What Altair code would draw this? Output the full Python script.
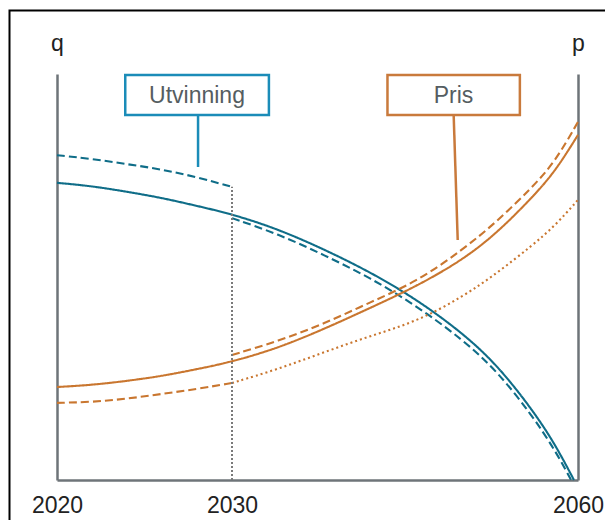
import altair as alt
import pandas as pd

# ---- data (value axis 0..100, schematic units) ----
years = [2020, 2022, 2024, 2026, 2028, 2030, 2034, 2038, 2042, 2046, 2050, 2053, 2056, 2058, 2060]
years_pre = years[:6]
years_post = years[5:]

utv_solid_years = years[:-1] + [2059.65]
utv_solid = [73.2, 72.4, 71.0, 69.5, 67.5, 65.5, 61.8, 56.8, 51.2, 44.5, 36.2, 28.3, 17.5, 8.9, 0.0]
utv_dash_pre = [80.0, 79.1, 77.8, 76.5, 74.6, 72.2]
utv_dash_post_years = years_post[:-1] + [2059.4]
utv_dash_post = [64.5, 60.6, 55.4, 49.8, 42.9, 34.6, 26.8, 16.0, 7.4, 0.0]

pris_solid = [22.9, 23.4, 24.4, 25.6, 27.3, 29.1, 32.5, 37.2, 42.4, 47.7, 54.2, 60.9, 69.5, 75.9, 85.0]
pris_dash_pre = [19.0, 19.2, 20.0, 21.2, 22.4, 23.9]
pris_dot_post = [23.9, 27.3, 31.5, 35.5, 39.0, 45.1, 51.0, 57.7, 62.6, 69.0]
pris_dash_post = [30.8, 34.2, 38.5, 43.8, 48.8, 56.7, 63.7, 72.0, 78.3, 88.2]

tick_years = [2020, 2030, 2060]
split_year = 2030
split_top = utv_dash_pre[-1]

series = [
    ("utv_solid", "Utvinning", "solid", utv_solid_years, utv_solid),
    ("utv_dash_pre", "Utvinning", "dashed", years_pre, utv_dash_pre),
    ("utv_dash_post", "Utvinning", "dashed", utv_dash_post_years, utv_dash_post),
    ("pris_solid", "Pris", "solid", years, pris_solid),
    ("pris_dash_pre", "Pris", "dashed", years_pre, pris_dash_pre),
    ("pris_dot_post", "Pris", "dotted", years_post, pris_dot_post),
    ("pris_dash_post", "Pris", "dashed", years_post, pris_dash_post),
]
rows = []
for sid, kind, style, xs, ys in series:
    for x, y in zip(xs, ys):
        rows.append({"series": sid, "kind": kind, "style": style, "year": x, "value": y})
df = pd.DataFrame(rows)

TEAL = "#0f6d88"
TEAL_BOX = "#1b8cb8"
ORANGE = "#c9762f"
ORANGE_BOX = "#c97a3c"
AXIS_GREY = "#6e7479"
FONT = "Liberation Sans"

xscale = alt.Scale(domain=[2020, 2030, 2060], range=[0, 175, 521], zero=False, nice=False)
yscale = alt.Scale(domain=[0, 100], nice=False, zero=False)

one = pd.DataFrame({"a": [0]})

lines = alt.Chart(df).mark_line(strokeWidth=2.1, interpolate="basis").encode(
    x=alt.X("year:Q", scale=xscale, axis=alt.Axis(values=tick_years, format="d", title=None, labelFlush=False)),
    y=alt.Y("value:Q", scale=yscale,
            axis=alt.Axis(orient="left", title="q", labels=False, titleAngle=0,
                          titleX=0, titleY=-24, titleAlign="center", titleBaseline="alphabetic")),
    color=alt.Color("kind:N", scale=alt.Scale(domain=["Utvinning", "Pris"], range=[TEAL, ORANGE]), legend=None),
    strokeDash=alt.StrokeDash("style:N", scale=alt.Scale(domain=["solid", "dashed", "dotted"],
                                                         range=[[1, 0], [8, 4], [2, 3]]), legend=None),
    detail="series:N",
)

vrule = alt.Chart(one).mark_rule(color="#7a7a7a", strokeWidth=2, strokeDash=[2, 2]).encode(
    x=alt.XDatum(split_year, scale=xscale),
    y=alt.YDatum(0, scale=yscale,
                 axis=alt.Axis(orient="right", title="p", labels=False, titleAngle=0,
                               titleX=0, titleY=-24, titleAlign="center", titleBaseline="alphabetic")),
    y2=alt.datum(split_top),
)

def box(x0, x1, xc, lx0, lx1, ly1, label, stroke):
    r = alt.Chart(one).mark_rect(fill="white", stroke=stroke, strokeWidth=2.5).encode(
        x=alt.XDatum(x0), x2=alt.datum(x1),
        y=alt.YDatum(99.75, axis=None), y2=alt.datum(89.9),
    )
    t = alt.Chart(one).mark_text(font=FONT, fontSize=23, color="#555d61", baseline="middle", align="center").encode(
        x=alt.XDatum(xc), y=alt.YDatum(94.6, axis=None), text=alt.value(label),
    )
    l = alt.Chart(one).mark_rule(color=stroke, strokeWidth=2.5).encode(
        x=alt.XDatum(lx0), x2=alt.datum(lx1),
        y=alt.YDatum(89.9, axis=None), y2=alt.datum(ly1),
    )
    return [l, r, t]

utv_box = box(2023.9, 2033.2, 2028.0, 2028.06, 2028.06, 77.1, "Utvinning", TEAL_BOX)
pris_box = box(2043.48, 2054.96, 2049.2, 2049.22, 2049.57, 59.1, "Pris", ORANGE_BOX)

frame = alt.Chart(one).mark_rect(fill="transparent", stroke="black", strokeWidth=2).encode(
    x=alt.value(-47.5), x2=alt.value(620), y=alt.value(-63.5), y2=alt.value(520),
)

chart = alt.layer(lines, vrule, *utv_box, *pris_box, frame).resolve_axis(y="independent").properties(
    width=521, height=406,
    autosize=alt.AutoSizeParams(type="none"),
    padding={"left": 49, "top": 66, "right": 27, "bottom": 40},
    background="white",
).configure_view(strokeWidth=0).configure_axis(
    domainColor=AXIS_GREY, domainWidth=2.5, ticks=False, grid=False,
    labelFont=FONT, labelFontSize=23, labelColor="#222222", labelPadding=14,
    titleFont=FONT, titleFontSize=23, titleFontWeight="normal", titleColor="#222222",
)

chart.save("out.html", embed_options={"renderer": "svg", "actions": False})
